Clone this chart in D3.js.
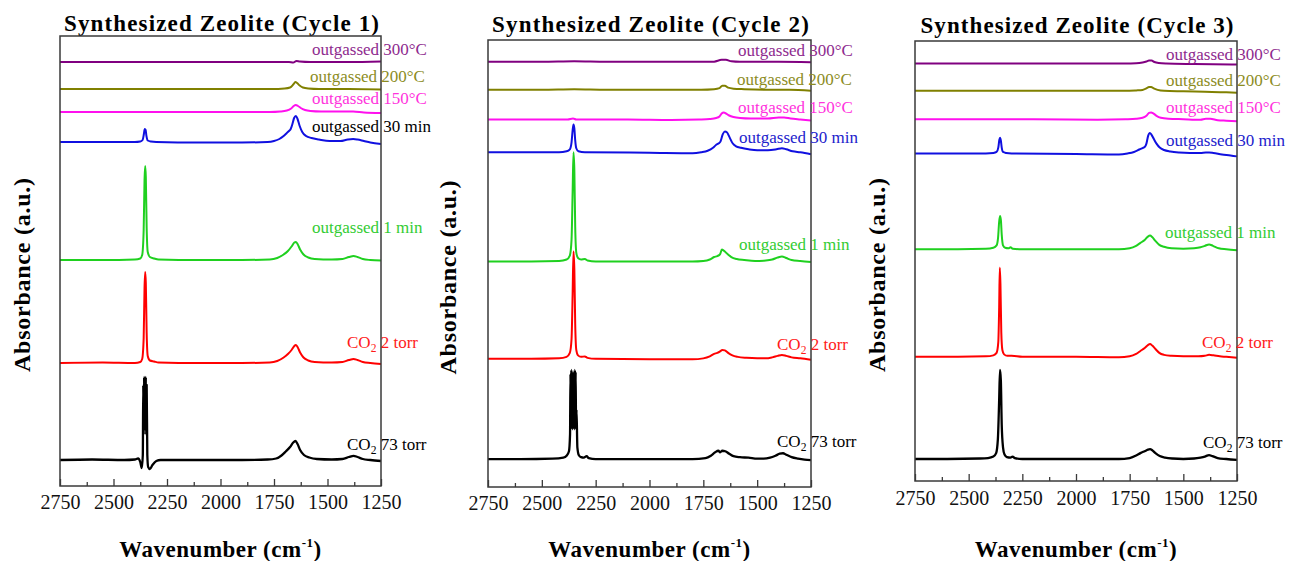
<!DOCTYPE html>
<html>
<head>
<meta charset="utf-8">
<script src="https://cdn.jsdelivr.net/npm/d3@7"></script>
<style>
  body { margin: 0; background: #fff; }
  svg { display: block; }
  svg text { font-family: "Liberation Serif", "Times New Roman", Times, serif; }
</style>
</head>
<body>
<svg id="chart" width="1290" height="561"></svg>
<script>
// ---------- data ----------
const cycleTitles = [
  "Synthesized Zeolite (Cycle 1)",
  "Synthesized Zeolite (Cycle 2)",
  "Synthesized Zeolite (Cycle 3)"
];
const waveDomain = [2750, 1250];          // cm^-1, high to low
const waveTicks = [2750, 2500, 2250, 2000, 1750, 1500, 1250];
const waveMinorTicks = [2625, 2375, 2125, 1875, 1625, 1375];
const absorbanceDomain = [0, 45];         // a.u., stacked

// series order: bottom to top
const seriesLabels = [
  "CO_2 73 torr", "CO_2 2 torr", "outgassed 1 min", "outgassed 30 min",
  "outgassed 150°C", "outgassed 200°C", "outgassed 300°C"
];

// vertical stacking offsets (a.u.)
const cycle1Offsets = [2.6, 12.3, 22.6, 34.4, 37.4, 39.7, 42.4];
const cycle2Offsets = [2.8, 12.9, 22.7, 33.7, 37.0, 40.0, 42.8];
const cycle3Offsets = [2.25, 12.7, 23.7, 33.5, 37.0, 39.9, 42.7];

// spectra: [wavenumber, absorbance relative to offset]
// (the gas-phase CO2 band at 73 torr is resolved into closely spaced rotational lines)
const cycle1Spectra = [
  [[2750,0],[2600,0.05],[2450,0],[2400,0.05],[2385,0.15],[2375,-0.2],[2368,-0.8],[2363,0.5],[2361,7.5],[2359,2.5],[2357,8.3],[2355,3],[2353,8.2],[2351,3],[2349,8.3],[2347,2.5],[2345,7.5],[2342,0.5],[2338,-0.7],[2330,-0.9],[2318,-0.5],[2300,-0.1],[2280,0],[2100,0],[1900,0],[1780,0.05],[1740,0.15],[1715,0.45],[1695,0.85],[1675,1.3],[1660,1.75],[1650,1.9],[1640,1.6],[1628,1.0],[1610,0.5],[1585,0.25],[1550,0.1],[1480,0.05],[1430,0.1],[1400,0.3],[1378,0.42],[1360,0.3],[1335,0.1],[1300,0],[1250,-0.1]],
  [[2750,0],[2550,0.05],[2400,0],[2375,0.1],[2366,0.4],[2359,2.5],[2355,7.5],[2352,9.1],[2349,8.0],[2345,3.0],[2340,0.7],[2330,0.25],[2310,0.15],[2290,0.05],[2100,0],[1900,0],[1770,0.05],[1735,0.2],[1705,0.55],[1685,0.9],[1668,1.3],[1655,1.7],[1648,1.8],[1640,1.6],[1628,1.05],[1612,0.55],[1590,0.25],[1560,0.1],[1480,0.05],[1430,0.1],[1400,0.3],[1378,0.4],[1360,0.3],[1335,0.1],[1300,0],[1250,-0.1]],
  [[2750,0],[2550,0],[2400,0.05],[2375,0.15],[2366,0.5],[2359,3.0],[2355,8.0],[2352,9.4],[2349,8.3],[2345,3.2],[2340,0.8],[2330,0.3],[2310,0.15],[2290,0.05],[2100,0],[1900,0],[1770,0.05],[1735,0.2],[1705,0.55],[1685,0.9],[1668,1.35],[1655,1.75],[1648,1.8],[1640,1.6],[1628,1.05],[1612,0.55],[1590,0.25],[1560,0.1],[1480,0.05],[1430,0.1],[1400,0.3],[1378,0.4],[1360,0.3],[1335,0.1],[1300,0],[1250,-0.05]],
  [[2750,0],[2550,0],[2400,0],[2375,0.05],[2364,0.2],[2358,0.8],[2354,1.3],[2350,1.2],[2346,0.6],[2340,0.15],[2325,0.05],[2300,0],[2100,-0.05],[1900,-0.05],[1780,0],[1750,0.1],[1725,0.3],[1705,0.6],[1690,0.9],[1680,1.1],[1672,1.3],[1664,1.8],[1656,2.4],[1648,2.6],[1640,2.3],[1630,1.6],[1618,1.0],[1600,0.6],[1575,0.4],[1540,0.25],[1490,0.1],[1440,0.1],[1405,0.25],[1380,0.3],[1360,0.25],[1330,0.1],[1300,-0.05],[1250,-0.2]],
  [[2750,0],[2400,0],[2200,0],[1900,0],[1770,0],[1720,0.05],[1690,0.15],[1670,0.35],[1658,0.6],[1648,0.7],[1638,0.6],[1625,0.4],[1605,0.2],[1580,0.1],[1530,0.05],[1420,0.05],[1380,0.05],[1330,-0.05],[1250,-0.1]],
  [[2750,0],[2400,0],[2200,0],[1900,0],[1760,0],[1700,0.05],[1675,0.15],[1660,0.45],[1650,0.7],[1642,0.6],[1630,0.35],[1615,0.15],[1590,0.05],[1540,0],[1400,0],[1250,-0.05]],
  [[2750,0],[2400,0],[2000,0],[1750,0],[1680,0],[1660,-0.05],[1645,0.1],[1630,0.05],[1580,0],[1400,0],[1250,0.05]]
];

const cycle2Spectra = [
  [[2750,0],[2600,0],[2450,0.05],[2400,0.15],[2385,0.35],[2374,0.8],[2369,2.5],[2367,8.6],[2365,3],[2363,9.0],[2361,3.5],[2359,8.8],[2357,3],[2355,8.6],[2353,3.5],[2351,8.8],[2349,3],[2347,9.0],[2345,3.5],[2343,8.8],[2341,3],[2339,5.0],[2335,1.2],[2328,0.4],[2318,0.2],[2305,0.15],[2292,0.3],[2282,0.1],[2250,0],[2000,0],[1800,0],[1740,0.1],[1715,0.35],[1695,0.7],[1680,0.85],[1672,0.7],[1662,0.85],[1648,0.8],[1630,0.55],[1610,0.3],[1580,0.2],[1540,0.15],[1500,0.05],[1470,0.05],[1440,0.15],[1415,0.35],[1395,0.55],[1380,0.6],[1365,0.45],[1340,0.2],[1310,0.05],[1280,-0.05],[1250,-0.1]],
  [[2750,0],[2550,0],[2420,0.05],[2385,0.2],[2370,0.6],[2362,2.0],[2357,6.5],[2353,10.8],[2349,9.0],[2345,3.5],[2340,0.9],[2332,0.35],[2318,0.2],[2300,0.25],[2288,0.1],[2250,0],[2000,-0.05],[1800,-0.05],[1750,0.05],[1720,0.25],[1700,0.5],[1685,0.6],[1672,0.75],[1662,0.9],[1650,0.85],[1635,0.6],[1615,0.35],[1590,0.2],[1550,0.1],[1500,0.05],[1460,0.05],[1430,0.15],[1405,0.3],[1385,0.4],[1365,0.3],[1340,0.15],[1300,0.05],[1250,-0.1]],
  [[2750,0],[2550,0],[2420,0.05],[2385,0.2],[2370,0.6],[2362,2.2],[2357,7.0],[2353,11.0],[2349,9.2],[2345,3.5],[2340,0.9],[2332,0.35],[2318,0.2],[2300,0.25],[2288,0.1],[2250,0],[2000,0],[1800,0],[1750,0.05],[1720,0.2],[1700,0.45],[1685,0.55],[1672,0.75],[1664,1.2],[1655,1.1],[1640,0.8],[1620,0.45],[1595,0.25],[1560,0.15],[1510,0.05],[1460,0.1],[1430,0.2],[1405,0.4],[1385,0.5],[1365,0.35],[1340,0.15],[1300,0.05],[1250,-0.05]],
  [[2750,0],[2550,0],[2420,0],[2385,0.1],[2370,0.3],[2362,1.0],[2357,2.2],[2353,2.8],[2349,2.4],[2345,1.2],[2340,0.4],[2330,0.1],[2300,0],[2000,-0.05],[1800,-0.1],[1760,0],[1730,0.15],[1705,0.45],[1690,0.75],[1678,0.9],[1670,1.1],[1660,1.8],[1650,2.1],[1640,2.0],[1628,1.5],[1614,0.9],[1598,0.6],[1575,0.45],[1540,0.3],[1500,0.2],[1450,0.2],[1410,0.3],[1385,0.4],[1365,0.3],[1335,0.1],[1300,0],[1250,-0.2]],
  [[2750,0],[2500,0],[2380,0],[2355,0.1],[2340,0],[2100,0],[1900,-0.05],[1770,0],[1720,0.05],[1690,0.15],[1675,0.3],[1665,0.6],[1655,0.7],[1645,0.6],[1630,0.4],[1610,0.25],[1580,0.15],[1530,0.1],[1450,0.1],[1400,0.2],[1375,0.2],[1345,0.1],[1300,0],[1250,-0.1]],
  [[2750,0],[2500,0],[2350,0.05],[2200,0],[1900,0],[1760,0],[1700,0.05],[1675,0.15],[1662,0.4],[1650,0.4],[1635,0.2],[1610,0.1],[1560,0.05],[1450,0],[1350,0],[1250,-0.1]],
  [[2750,0],[2500,0],[2350,0.05],[2200,0],[1900,0],[1760,0],[1700,0.02],[1665,0.2],[1645,0.2],[1620,0.05],[1580,0],[1400,0],[1250,-0.05]]
];

const cycle3Spectra = [
  [[2750,0],[2600,0],[2450,0.05],[2410,0.1],[2385,0.25],[2372,0.6],[2364,2.0],[2358,6.0],[2354,9.1],[2350,8.0],[2346,3.5],[2340,1.2],[2333,0.45],[2322,0.2],[2305,0.15],[2295,0.25],[2285,0.1],[2250,0],[2000,0],[1800,0],[1750,0.1],[1720,0.35],[1700,0.6],[1680,0.8],[1665,0.95],[1655,1.0],[1645,0.9],[1630,0.6],[1610,0.3],[1585,0.15],[1550,0.05],[1500,0],[1450,0.05],[1420,0.15],[1400,0.25],[1380,0.4],[1365,0.3],[1340,0.1],[1300,0],[1250,-0.1]],
  [[2750,0],[2550,0],[2420,0.05],[2385,0.15],[2370,0.4],[2362,1.5],[2358,5.0],[2355,9.1],[2352,7.5],[2348,2.5],[2343,0.7],[2335,0.25],[2320,0.1],[2300,0.1],[2250,0],[2000,0],[1800,-0.05],[1750,0.05],[1720,0.3],[1700,0.6],[1680,0.9],[1665,1.2],[1655,1.3],[1645,1.15],[1630,0.8],[1612,0.4],[1590,0.2],[1555,0.1],[1500,0.05],[1430,0.05],[1400,0.1],[1380,0.2],[1360,0.15],[1330,0.05],[1300,0],[1250,-0.1]],
  [[2750,0],[2550,0],[2420,0.05],[2385,0.15],[2370,0.4],[2363,1.2],[2358,2.8],[2354,3.4],[2350,3.0],[2346,1.5],[2340,0.4],[2330,0.15],[2315,0.1],[2305,0.2],[2295,0.05],[2250,0],[2000,0],[1800,0],[1750,0.1],[1720,0.35],[1700,0.65],[1680,0.95],[1665,1.3],[1655,1.4],[1645,1.25],[1630,0.85],[1612,0.45],[1590,0.25],[1555,0.1],[1500,0.05],[1450,0.1],[1420,0.2],[1400,0.35],[1380,0.5],[1362,0.35],[1335,0.1],[1300,0],[1250,-0.1]],
  [[2750,0],[2550,0],[2420,0],[2385,0.05],[2370,0.15],[2362,0.6],[2357,1.4],[2354,1.6],[2350,1.3],[2346,0.6],[2340,0.15],[2325,0.05],[2300,0],[2000,-0.05],[1800,-0.1],[1760,0],[1730,0.15],[1705,0.4],[1690,0.55],[1680,0.65],[1672,1.0],[1664,1.8],[1656,2.1],[1648,1.9],[1638,1.5],[1625,1.0],[1610,0.6],[1590,0.35],[1560,0.2],[1520,0.1],[1470,0.05],[1420,0.05],[1395,0.1],[1380,0.1],[1360,0.05],[1320,-0.1],[1280,-0.2],[1250,-0.3]],
  [[2750,0],[2500,0],[2200,0],[1900,-0.05],[1770,0],[1720,0.05],[1690,0.15],[1672,0.35],[1660,0.65],[1650,0.7],[1640,0.6],[1625,0.35],[1605,0.15],[1570,0.05],[1500,0],[1420,-0.05],[1395,0.05],[1375,0.05],[1340,-0.1],[1300,-0.15],[1250,-0.2]],
  [[2750,0],[2500,0],[2200,0],[1900,0],[1770,0],[1720,0.05],[1690,0.1],[1672,0.25],[1660,0.4],[1650,0.4],[1638,0.25],[1620,0.1],[1590,0],[1500,-0.05],[1400,-0.1],[1300,-0.15],[1250,-0.2]],
  [[2750,0],[2500,0],[2200,0],[1900,0],[1770,0],[1720,0.02],[1690,0.1],[1672,0.2],[1660,0.3],[1648,0.3],[1635,0.15],[1615,0.05],[1580,0],[1450,-0.05],[1250,-0.1]]
];

const cycleOffsets = [cycle1Offsets, cycle2Offsets, cycle3Offsets];
const cycleSpectra = [cycle1Spectra, cycle2Spectra, cycle3Spectra];

// ---------- styles & layout ----------
const lineColors  = ["#000000", "#ff0000", "#1fd01f", "#1010e0", "#ff10ee", "#808000", "#800080"];
const labelColors = ["#000000", "#ff1a1a", "#33cc33", "#2222cc", "#ff33dd", "#8c8c1e", "#8e2a8e"];
const serif = "Liberation Serif, Times New Roman, Times, serif";

const frames = [
  { left: 60,  right: 381,  top: 36, bottom: 486, titleY: 31, titleW: 315, tickY: 509, yTitleX: 30,
    labels: [[347,450],[347,348],[312,233],[312,132],[312,104],[310,82],[312,55]], blueLabelInk: "#000000" },
  { left: 488, right: 811,  top: 40, bottom: 487, titleY: 32, titleW: 317, tickY: 510, yTitleX: 456,
    labels: [[777,447],[777,350],[739,250],[739,143],[738,113],[737,85],[738,56]] },
  { left: 915, right: 1237, top: 41, bottom: 481, titleY: 33, titleW: 313, tickY: 505, yTitleX: 885,
    labels: [[1203,448],[1202,348],[1165,238],[1166,146],[1166,113],[1166,86],[1166,60]] }
];

const svg = d3.select("#chart");

function writeLabel(sel, str) {
  if (str.startsWith("CO_2")) {
    sel.append("tspan").text("CO");
    sel.append("tspan").text("2").attr("font-size", "0.68em").attr("dy", 4);
    sel.append("tspan").text(str.slice(4)).attr("dy", -4);
  } else {
    sel.text(str);
  }
}

frames.forEach((f, i) => {
  const x = d3.scaleLinear().domain(waveDomain).range([f.left, f.right]);
  const y = d3.scaleLinear().domain(absorbanceDomain).range([f.bottom, f.top]);
  const g = svg.append("g");

  // title
  g.append("text")
    .attr("x", (f.left + f.right) / 2 + 1).attr("y", f.titleY)
    .attr("text-anchor", "middle")
    .style("font-family", serif).attr("font-weight", "bold").attr("font-size", 23)
    .attr("textLength", f.titleW).attr("lengthAdjust", "spacing")
    .text(cycleTitles[i]);

  // spectra
  const line = d3.line()
    .x(d => x(d[0]))
    .y(d => y(d[1]))
    .curve(d3.curveMonotoneX);

  cycleSpectra[i].forEach((pts, k) => {
    const off = cycleOffsets[i][k];
    g.append("path")
      .attr("d", line(pts.map(p => [p[0], off + p[1]])))
      .attr("fill", "none")
      .attr("stroke", lineColors[k])
      .attr("stroke-width", k === 0 ? 2.3 : 2)
      .attr("stroke-linejoin", "round");
  });

  // frame
  g.append("rect")
    .attr("x", f.left).attr("y", f.top)
    .attr("width", f.right - f.left).attr("height", f.bottom - f.top)
    .attr("fill", "none").attr("stroke", "#3a3a3a").attr("stroke-width", 1.5);

  // x axis (ticks point inward)
  const major = d3.axisBottom(x).tickValues(waveTicks).tickSize(-7).tickSizeOuter(0).tickFormat(d3.format("d"));
  const ax = g.append("g").attr("transform", `translate(0,${f.bottom})`).call(major);
  ax.attr("font-family", null);
  ax.select(".domain").remove();
  ax.selectAll(".tick line").attr("stroke", "#3a3a3a").attr("stroke-width", 1.3);
  ax.selectAll(".tick text")
    .attr("y", f.tickY - f.bottom).attr("dy", 0)
    .style("font-family", serif).attr("font-size", 20).attr("fill", "#111");

  const minor = d3.axisBottom(x).tickValues(waveMinorTicks).tickSize(-4).tickFormat("");
  const mx = g.append("g").attr("transform", `translate(0,${f.bottom})`).call(minor);
  mx.select(".domain").remove();
  mx.selectAll(".tick line").attr("stroke", "#3a3a3a").attr("stroke-width", 1.3);

  // x title
  const xt = g.append("text")
    .attr("x", (f.left + f.right) / 2).attr("y", 557)
    .attr("text-anchor", "middle")
    .style("font-family", serif).attr("font-weight", "bold").attr("font-size", 23)
    .attr("letter-spacing", 0.5);
  xt.append("tspan").text("Wavenumber (cm");
  xt.append("tspan").text("-1").attr("font-size", 13).attr("dy", -10);
  xt.append("tspan").text(")").attr("dy", 10);

  // y title
  g.append("text")
    .attr("transform", `translate(${f.yTitleX},${(f.top + f.bottom) / 2 + 14}) rotate(-90)`)
    .attr("text-anchor", "middle")
    .style("font-family", serif).attr("font-weight", "bold").attr("font-size", 24)
    .attr("textLength", 194).attr("lengthAdjust", "spacing")
    .text("Absorbance (a.u.)");

  // series labels
  seriesLabels.forEach((lab, k) => {
    const ink = (k === 3 && f.blueLabelInk) ? f.blueLabelInk : labelColors[k];
    const t = g.append("text")
      .attr("x", f.labels[k][0]).attr("y", f.labels[k][1])
      .style("font-family", serif).attr("font-size", 17)
      .attr("fill", ink);
    writeLabel(t, lab);
  });
});
</script>
</body>
</html>
